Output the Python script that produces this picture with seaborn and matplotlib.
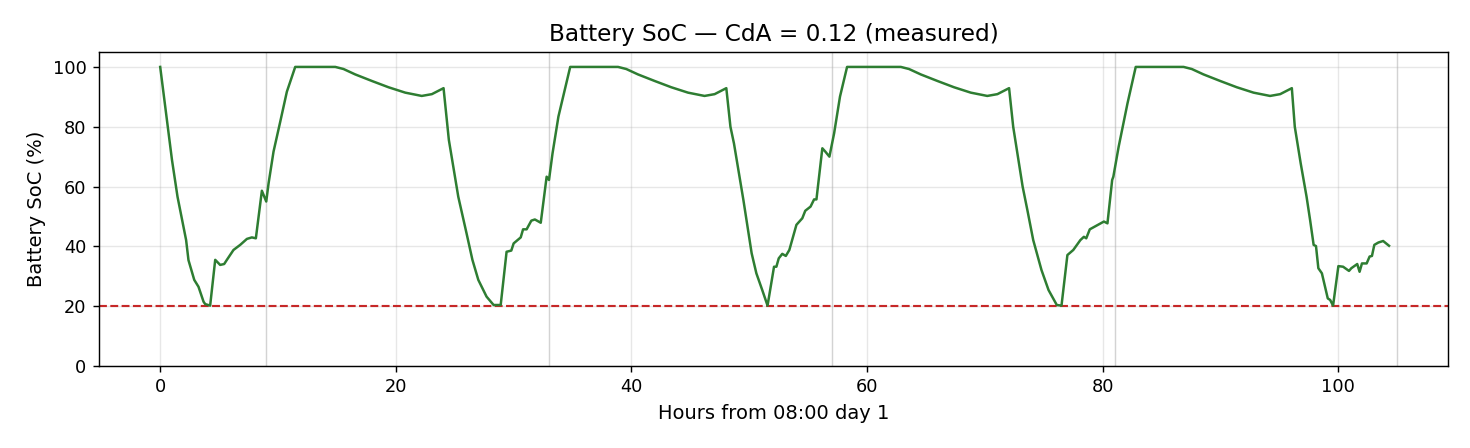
"""Battery state of charge over the multi-day run (CdA = 0.12, measured)."""

import matplotlib
matplotlib.use("Agg")
import matplotlib.pyplot as plt
import pandas as pd
import seaborn as sns


# hours from 08:00 on day 1, and the battery SoC read at each point
hours = [
    0.0, 1.0, 1.47, 2.2, 2.4, 2.89, 3.25, 3.68, 3.82, 4.24,
    4.67, 5.09, 5.43, 5.66, 6.22, 6.79, 7.36, 7.78, 8.12,
    8.63, 9.0, 9.2, 9.62, 10.19, 10.75, 11.46,
    14.86, 15.56, 16.55, 17.97, 19.38, 20.8, 22.2, 23.06, 24.05,
    24.5, 25.3, 26.0, 26.5, 27.0, 27.7, 28.3, 28.9,
    29.4, 29.8, 30.0, 30.6, 30.8, 31.1, 31.5, 31.8, 32.3,
    32.8, 33.0, 33.3, 33.8, 34.4, 34.8,
    38.86, 39.56, 40.55, 41.97, 43.38, 44.8, 46.2, 47.06, 48.05,
    48.4, 48.7, 49.5, 50.2, 50.6, 51.1, 51.55,
    52.1, 52.3, 52.5, 52.8, 53.1, 53.4, 54.0, 54.5, 54.75, 55.2, 55.5, 55.7,
    56.2, 56.45, 56.8, 57.2, 57.7, 58.3,
    62.86, 63.56, 64.55, 65.97, 67.38, 68.8, 70.2, 71.06, 72.05,
    72.4, 73.2, 73.6, 74.1, 74.8, 75.4, 76.1, 76.5,
    77.0, 77.5, 78.1, 78.4, 78.6, 78.9, 79.4, 80.1, 80.4,
    80.8, 80.9, 81.35, 82.1, 82.8,
    86.86, 87.56, 88.55, 89.97, 91.38, 92.8, 94.2, 95.06, 96.05,
    96.3, 96.8, 97.3, 97.6, 97.9, 98.1, 98.3, 98.6, 99.1, 99.3, 99.55,
    100.0, 100.4, 100.9, 101.1, 101.6, 101.8, 102.0, 102.4, 102.65, 102.85,
    103.05, 103.4, 103.8, 104.3,
]
soc = [
    100.0, 68.9, 56.6, 42.1, 35.4, 28.8, 26.5, 21.5, 20.7, 20.2,
    35.5, 33.8, 34.1, 35.5, 38.8, 40.5, 42.5, 43.0, 42.7,
    58.6, 55.0, 61.1, 71.7, 81.7, 91.7, 100.0,
    100.0, 99.3, 97.5, 95.3, 93.2, 91.4, 90.3, 90.9, 92.9,
    75.6, 56.6, 44.4, 35.5, 28.8, 23.2, 20.4, 20.4,
    38.2, 38.6, 41.0, 43.0, 45.7, 45.7, 48.6, 49.0, 47.9,
    63.3, 62.2, 71.1, 83.4, 93.4, 100.0,
    100.0, 99.3, 97.5, 95.3, 93.2, 91.4, 90.3, 90.9, 92.9,
    80.0, 74.4, 55.5, 37.7, 31.0, 25.4, 20.2,
    33.2, 33.2, 36.0, 37.5, 36.8, 38.8, 47.2, 49.4, 51.9, 53.3, 55.7, 55.7,
    72.8, 71.7, 70.0, 77.8, 90.1, 100.0,
    100.0, 99.3, 97.5, 95.3, 93.2, 91.4, 90.3, 90.9, 92.9,
    80.0, 60.0, 52.2, 42.1, 32.1, 25.4, 20.4, 20.2,
    37.1, 38.8, 42.1, 43.2, 42.7, 45.7, 46.8, 48.3, 47.7,
    62.2, 63.3, 73.3, 87.8, 100.0,
    100.0, 99.3, 97.5, 95.3, 93.2, 91.4, 90.3, 90.9, 92.9,
    80.0, 67.8, 56.6, 48.8, 40.5, 40.1, 32.7, 31.0, 22.6, 22.1, 20.2,
    33.4, 33.2, 31.8, 32.7, 34.1, 31.5, 34.3, 34.3, 36.6, 36.8,
    40.5, 41.3, 41.8, 40.2,
]

day_boundaries = [9, 33, 57, 81, 105]   # 17:00 each day
soc_floor = 20
x_ticks = [0, 20, 40, 60, 80, 100]
y_ticks = [0, 20, 40, 60, 80, 100]

df = pd.DataFrame({"hours": hours, "soc": soc})

fig, ax = plt.subplots(figsize=(1470 / 128, 448 / 128), dpi=128)
fig.subplots_adjust(left=0.0673, right=0.985, top=0.884, bottom=0.183)

ax.grid(True, color="#b0b0b0", alpha=0.3, linewidth=0.8)
for h in day_boundaries:
    ax.axvline(h, color="#d3d3d3", linewidth=0.8, zorder=1)

sns.lineplot(data=df, x="hours", y="soc", ax=ax, color="#2e7d32",
             linewidth=1.4, sort=False, zorder=3)
ax.axhline(soc_floor, color="#c62828", linestyle="--", linewidth=1.2, zorder=2)

ax.set_xticks(x_ticks)
ax.set_yticks(y_ticks)
ax.set_xlim(-5.2, 109.3)
ax.set_ylim(0, 105)
ax.tick_params(labelsize=10)
ax.set_xlabel("Hours from 08:00 day 1", fontsize=11)
ax.set_ylabel("Battery SoC (%)", fontsize=11)
ax.set_title("Battery SoC — CdA = 0.12 (measured)", fontsize=13)

fig.savefig("out.png", dpi=128)
plt.close(fig)
